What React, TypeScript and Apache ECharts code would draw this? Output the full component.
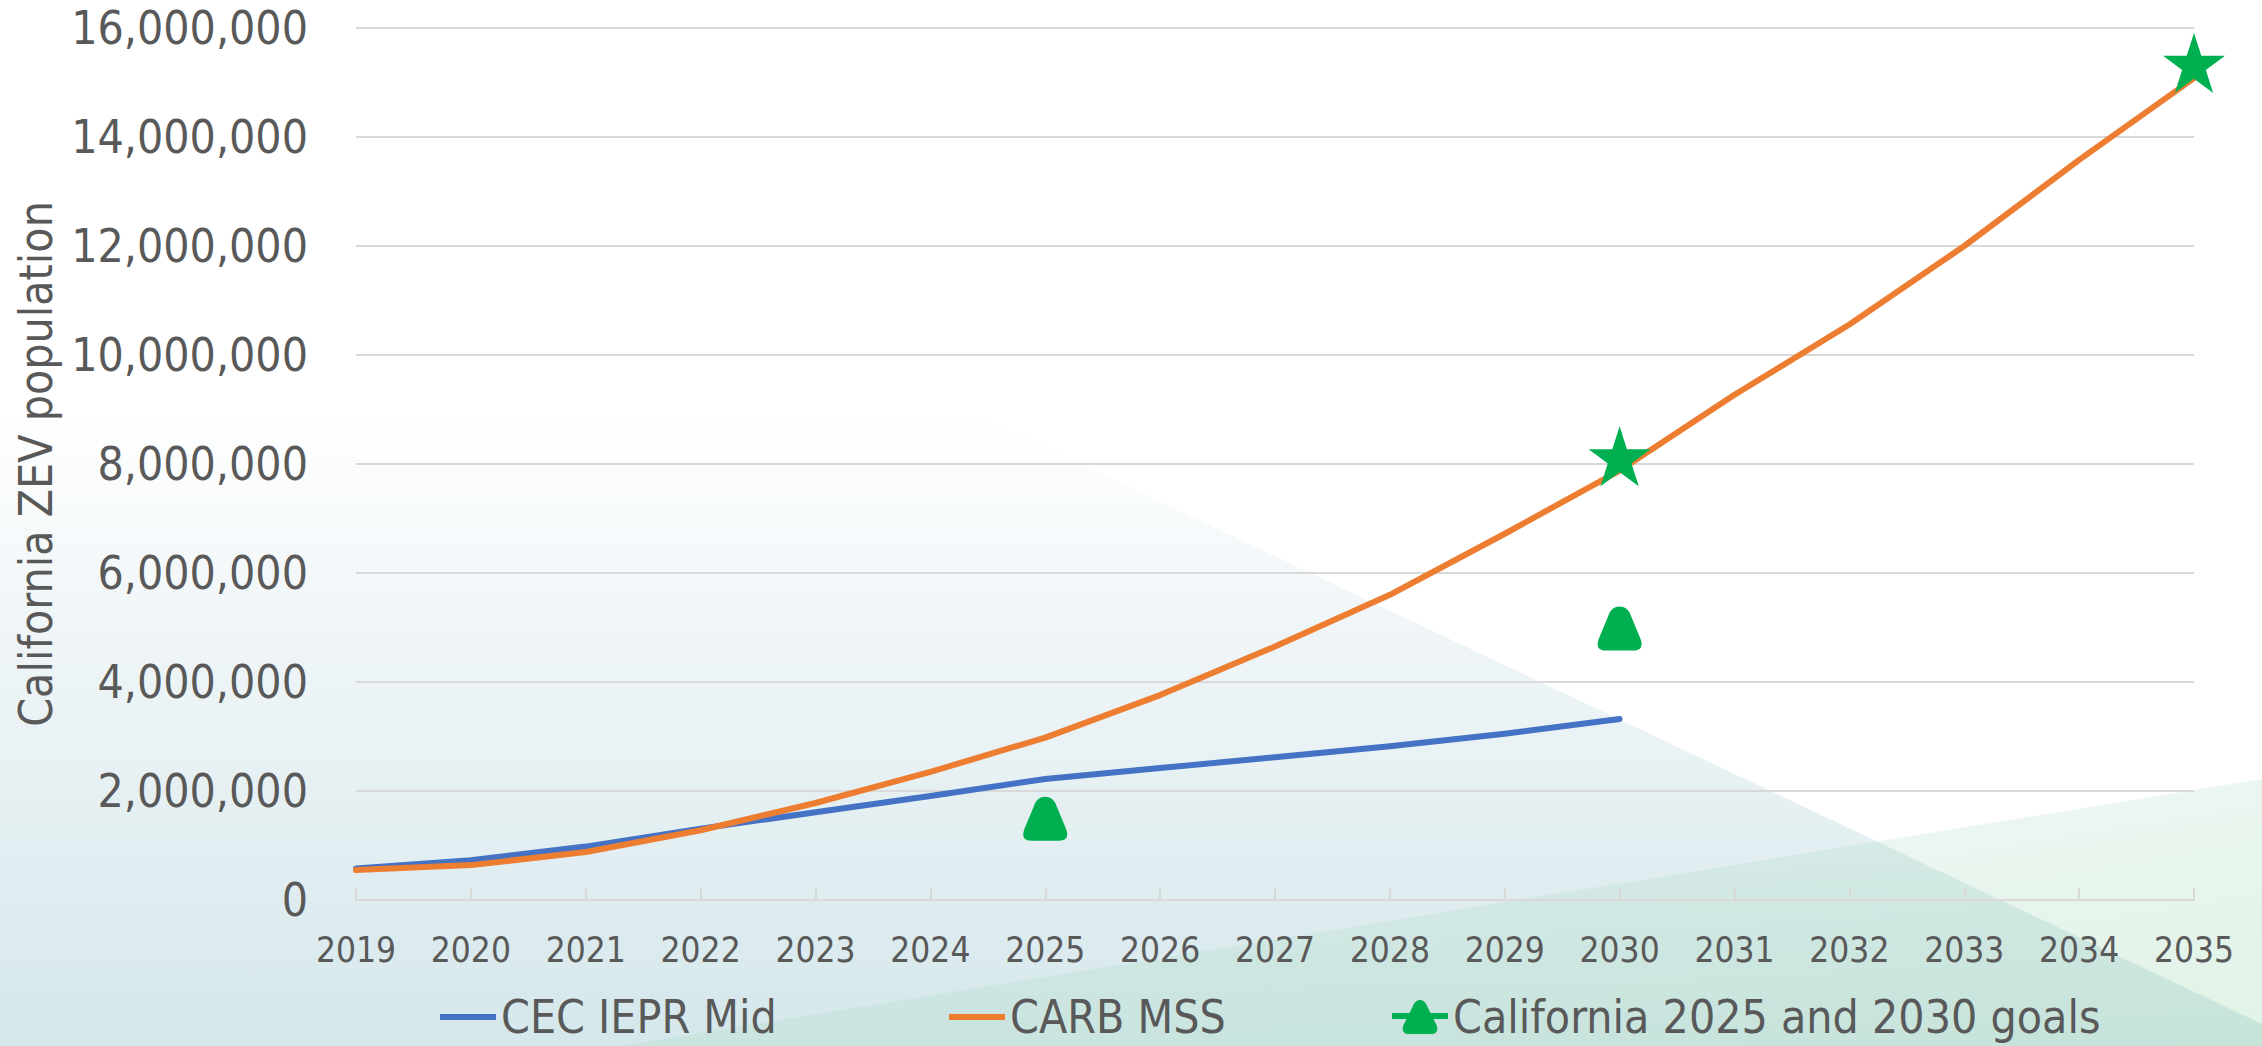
import React, { useEffect, useRef } from "react";
import * as echarts from "echarts";

const years = ["2019", "2020", "2021", "2022", "2023", "2024", "2025", "2026", "2027", "2028", "2029", "2030", "2031", "2032", "2033", "2034", "2035"];
const cecIeprMid = [580000, 730000, 980000, 1310000, 1610000, 1910000, 2220000, 2420000, 2620000, 2820000, 3050000, 3320000];
const carbMss = [550000, 640000, 880000, 1280000, 1780000, 2350000, 2980000, 3760000, 4650000, 5600000, 6720000, 7880000, 9270000, 10560000, 12000000, 13580000, 15080000];
const goals2025_2030 = [null, null, null, null, null, null, 1490000, null, null, null, null, 4980000, null, null, null, null, null];
const starTargets = [null, null, null, null, null, null, null, null, null, null, null, 8140000, null, null, null, null, 15360000];
const yMin = 0;
const yMax = 16000000;
const yInterval = 2000000;

const FONT = "'DejaVu Sans Condensed', 'Liberation Sans', sans-serif";
const TEXT = "#595959";
const GRID = "#d9d9d9";
const BLUE = "#4472C4";
const ORANGE = "#ED7D31";
const GREEN = "#00B050";

const roundTri =
  "path://M25 25 C33 -2 67 -2 75 25 L96 75 C102 92 96 100 80 100 L20 100 C4 100 -2 92 4 75 Z";

function starPath(): string {
  const pts: string[] = [];
  for (let i = 0; i < 10; i++) {
    const a = (-90 + i * 36) * (Math.PI / 180);
    const r = i % 2 === 0 ? 50 : 19.1;
    pts.push((50 + r * Math.cos(a)).toFixed(2) + " " + (50 + r * Math.sin(a)).toFixed(2));
  }
  return "path://M" + pts.join(" L") + " Z";
}

const legendGoalIcon =
  "path://M0 15 H56 V21 H0 Z M20.5 9 C23.5 -0.5 32.5 -0.5 35.5 9 L44.5 27 C46.5 33 44.5 36 39.2 36 L16.8 36 C11.5 36 9.5 33 11.5 27 Z";

export default function App() {
  const ref = useRef<HTMLDivElement>(null);
  useEffect(() => {
    document.body.style.margin = "0";
    if (!ref.current) return;
    const chart = echarts.init(ref.current, null, { renderer: "svg" });
    const legendText = { fontSize: 46, lineHeight: 46, color: TEXT, fontFamily: FONT };
    chart.setOption({
      animation: false,
      backgroundColor: "transparent",
      graphic: {
        elements: [
          { type: "rect", z: -10, silent: true, shape: { x: 0, y: 0, width: 2262, height: 1046 }, style: { fill: "#ffffff" } },
          {
            type: "polygon",
            z: -9,
            silent: true,
            shape: { points: [[0, -48], [2262, 1024], [2262, 1046], [0, 1046]] },
            style: {
              fill: new echarts.graphic.LinearGradient(0, 0, 0, 1, [
                { offset: 0, color: "rgba(255,255,255,0)" },
                { offset: 0.42, color: "rgba(241,246,248,0)" },
                { offset: 0.6, color: "#f1f6f8" },
                { offset: 0.8, color: "#e4eff2" },
                { offset: 1, color: "#d4e7eb" },
              ]),
            },
          },
          {
            type: "polygon",
            z: -8,
            silent: true,
            shape: { points: [[620, 1046], [2262, 779], [2262, 1046]] },
            style: {
              fill: new echarts.graphic.LinearGradient(0, 0, 1, 1, [
                { offset: 0, color: "rgba(170,215,195,0.12)" },
                { offset: 1, color: "rgba(175,222,190,0.38)" },
              ]),
            },
          },
        ],
      },
      grid: { left: 356, right: 68, top: 28, bottom: 146, containLabel: false, outerBoundsMode: "none" },
      legend: [
        {
          left: 435, top: 989, itemWidth: 56, itemHeight: 6, textStyle: legendText,
          data: [{ name: "CEC IEPR Mid", icon: "rect", itemStyle: { color: BLUE } }],
        },
        {
          left: 944, top: 989, itemWidth: 56, itemHeight: 6, textStyle: legendText,
          data: [{ name: "CARB MSS", icon: "rect", itemStyle: { color: ORANGE } }],
        },
        {
          left: 1387, top: 989, itemWidth: 56, itemHeight: 36, textStyle: legendText,
          data: [{ name: "California 2025 and 2030 goals", icon: legendGoalIcon, itemStyle: { color: GREEN } }],
        },
      ],
      xAxis: {
        type: "category",
        data: years,
        boundaryGap: false,
        axisLine: { lineStyle: { color: GRID, width: 2 } },
        axisTick: { show: true, inside: true, length: 12, lineStyle: { color: GRID, width: 2 } },
        axisLabel: { fontSize: 35, color: TEXT, fontFamily: FONT, margin: 32, interval: 0 },
        splitLine: { show: false },
      },
      yAxis: {
        type: "value",
        min: yMin,
        max: yMax,
        interval: yInterval,
        name: "California ZEV population",
        nameLocation: "middle",
        nameRotate: 90,
        nameGap: 297,
        nameTextStyle: { fontSize: 46, color: TEXT, fontFamily: FONT },
        axisLine: { show: false },
        axisTick: { show: false },
        axisLabel: {
          fontSize: 46,
          color: TEXT,
          fontFamily: FONT,
          margin: 48,
          formatter: (v: number) => v.toLocaleString("en-US"),
        },
        splitLine: { lineStyle: { color: GRID, width: 2 } },
      },
      series: [
        {
          name: "CEC IEPR Mid",
          type: "line",
          data: cecIeprMid,
          symbol: "none",
          lineStyle: { color: BLUE, width: 6, cap: "round", join: "round" },
          itemStyle: { color: BLUE },
        },
        {
          name: "CARB MSS",
          type: "line",
          data: carbMss,
          symbol: "none",
          lineStyle: { color: ORANGE, width: 6, cap: "round", join: "round" },
          itemStyle: { color: ORANGE },
        },
        {
          name: "California 2025 and 2030 goals",
          type: "line",
          data: goals2025_2030,
          symbol: roundTri,
          symbolSize: [44, 44],
          showSymbol: true,
          connectNulls: false,
          lineStyle: { color: GREEN, width: 6 },
          itemStyle: { color: GREEN, opacity: 1 },
        },
        {
          name: "Targets",
          type: "scatter",
          data: starTargets,
          symbol: starPath(),
          symbolSize: [62, 60],
          itemStyle: { color: GREEN, opacity: 1 },
          z: 5,
        },
      ],
    });
    return () => chart.dispose();
  }, []);
  return <div ref={ref} style={{ width: 2262, height: 1046 }} />;
}
